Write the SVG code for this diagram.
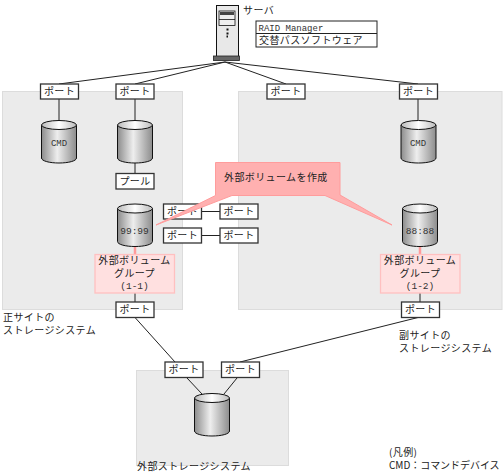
<svg xmlns="http://www.w3.org/2000/svg" width="504" height="476" viewBox="0 0 504 476">
<style>
text{font-family:"Noto Sans CJK JP","DejaVu Sans",sans-serif;font-size:10px;letter-spacing:.4px;fill:#222}
.m{text-anchor:middle}
.mono{font-family:"Liberation Mono",monospace;font-size:9.500px;letter-spacing:0;fill:#333}
.panel{fill:#ebebeb;stroke:#dcdcdc;stroke-width:1}
.port{fill:#fff;stroke:#333;stroke-width:1.3}
.ln{stroke:#222;stroke-width:1;fill:none}
.pink{fill:#ffe0e0;stroke:#ffc0c0;stroke-width:1.3}
</style>
<defs>
<linearGradient id="g" x1="0" x2="1" y1="0" y2="0">
<stop offset="0" stop-color="#8c8c8c"/><stop offset=".45" stop-color="#eeeeee"/><stop offset="1" stop-color="#8c8c8c"/>
</linearGradient>
<linearGradient id="t" x1="0" x2="1" y1="0" y2="0">
<stop offset="0" stop-color="#bbb"/><stop offset=".5" stop-color="#fff"/><stop offset="1" stop-color="#bbb"/>
</linearGradient>
<g id="cyl">
<path d="M0 5V38C0 41 8 43 17.500 43S35 41 35 38V5Z" fill="url(#g)" stroke="#111" stroke-width="1"/>
<ellipse cx="17.500" cy="5" rx="17.500" ry="4.500" fill="url(#t)" stroke="#111" stroke-width="1"/>
</g>
</defs>
<g id="panels">
<rect class="panel" x="2.500" y="91.500" width="180" height="218"/>
<rect class="panel" x="238.500" y="91.500" width="263.500" height="218"/>
<rect class="panel" x="136.500" y="370.500" width="152" height="95"/>
</g>
<g id="connectors">
<path class="ln" d="M225 62L59 84M225 62L135 84M225 62L286 84M225 62L418 84"/>
<path class="ln" d="M59 99V120M135 99V120M135 163V174M418 99V120"/>
<path class="ln" d="M201 211.500H220M201 235.500H220"/>
<path class="ln" d="M135 293V302M420 293V302"/>
<path class="ln" d="M135 317.500L175 362M418 317.500L240 362"/>
<path class="ln" d="M187 378L202 394M237 378L224 394"/>
<path d="M135 247V255M420 247V255" stroke="#ff9a9a" stroke-width="2.500" fill="none"/>
</g>
<g id="server">
<rect x="216.500" y="5.500" width="22" height="51" fill="#e8e8e8" stroke="#111"/>
<rect x="213.500" y="56" width="26" height="4.500" fill="#666" stroke="#222" stroke-width=".8"/>
<rect x="219" y="11" width="16" height="14.500" fill="#eee" stroke="#111" stroke-width=".8"/>
<rect x="220" y="12" width="14" height="3" fill="#444"/>
<path d="M219 19.500H235" stroke="#111" stroke-width=".8"/>
<path d="M226.500 28.500h2v2h-2zM226.500 32.500h2v2h-2zM226.500 35.500h1.500v2h-1.500z" fill="#111"/>
<text x="243" y="14">サーバ</text>
</g>
<g id="software">
<rect x="256" y="21" width="121" height="26" fill="#fff" stroke="#222" stroke-width="1"/>
<path d="M256 33.500H377" stroke="#222" stroke-width="1"/>
<text class="mono" x="258.500" y="31" style="font-size:9px">RAID Manager</text>
<text x="259" y="44">交替パスソフトウェア</text>
</g>
<g id="port1"><rect class="port" x="40.500" y="84" width="38" height="15"/><text class="m" x="59.500" y="95">ポート</text></g>
<g id="port2"><rect class="port" x="116" y="84" width="38" height="15"/><text class="m" x="135" y="95">ポート</text></g>
<g id="port3"><rect class="port" x="267" y="84" width="38" height="15"/><text class="m" x="286" y="95">ポート</text></g>
<g id="port4"><rect class="port" x="399.500" y="84" width="38" height="15"/><text class="m" x="418.500" y="95">ポート</text></g>
<g id="cmd1"><use href="#cyl" x="41.500" y="120"/><text class="m mono" x="59" y="146" style="font-size:9px">CMD</text></g>
<g id="pool-vol"><use href="#cyl" x="117.500" y="120"/></g>
<g id="cmd2"><use href="#cyl" x="401" y="120"/><text class="m mono" x="418" y="146" style="font-size:9px">CMD</text></g>
<g id="pool"><rect class="port" x="116" y="173.500" width="38" height="15.500"/><text class="m" x="135" y="185">プール</text></g>
<g id="vol99"><use href="#cyl" x="117.500" y="203.500"/><text class="m mono" x="134.500" y="234">99:99</text></g>
<g id="vol88"><use href="#cyl" x="402.500" y="203.500"/><text class="m mono" x="420" y="234">88:88</text></g>
<g id="port5"><rect class="port" x="163.500" y="204" width="38" height="15"/><text class="m" x="182.500" y="215">ポート</text></g>
<g id="port6"><rect class="port" x="220" y="204" width="38" height="15"/><text class="m" x="239" y="215">ポート</text></g>
<g id="port7"><rect class="port" x="163.500" y="228" width="38" height="15"/><text class="m" x="182.500" y="239">ポート</text></g>
<g id="port8"><rect class="port" x="220" y="228" width="38" height="15"/><text class="m" x="239" y="239">ポート</text></g>
<g id="group1">
<rect class="pink" x="95" y="254.500" width="79.500" height="38.500"/>
<text class="m" x="134.500" y="264">外部ボリューム</text>
<text class="m" x="134.500" y="276.500">グループ</text>
<text class="m mono" x="134.500" y="289">(1-1)</text>
</g>
<g id="group2">
<rect class="pink" x="380.500" y="254.500" width="79.500" height="38.500"/>
<text class="m" x="420" y="264">外部ボリューム</text>
<text class="m" x="420" y="276.500">グループ</text>
<text class="m mono" x="420" y="289">(1-2)</text>
</g>
<g id="port9"><rect class="port" x="116" y="302" width="38" height="15.500"/><text class="m" x="135" y="313">ポート</text></g>
<g id="port10"><rect class="port" x="401.500" y="302" width="38" height="15.500"/><text class="m" x="420.500" y="313">ポート</text></g>
<g id="port11"><rect class="port" x="165" y="362" width="38" height="15.500"/><text class="m" x="184" y="373">ポート</text></g>
<g id="port12"><rect class="port" x="221.500" y="362" width="38" height="15.500"/><text class="m" x="240.500" y="373">ポート</text></g>
<g id="ext-vol"><use href="#cyl" x="194.500" y="393"/></g>
<g id="callout">
<path d="M215.500 162.500H340V195L392 225L325 195.500H232L156 225L215.500 195.500Z" fill="#ffb0b0" stroke="#ff9c9c" stroke-width="1"/>
<text x="224" y="181">外部ボリュームを作成</text>
</g>
<g id="labels">
<text x="3" y="321">正サイトの</text>
<text x="3" y="334">ストレージシステム</text>
<text x="399" y="339">副サイトの</text>
<text x="399" y="352">ストレージシステム</text>
<text x="137" y="470">外部ストレージシステム</text>
<text x="389" y="456">(凡例)</text>
<text x="389" y="469" textLength="111" lengthAdjust="spacing">CMD：コマンドデバイス</text>
</g>
</svg>
